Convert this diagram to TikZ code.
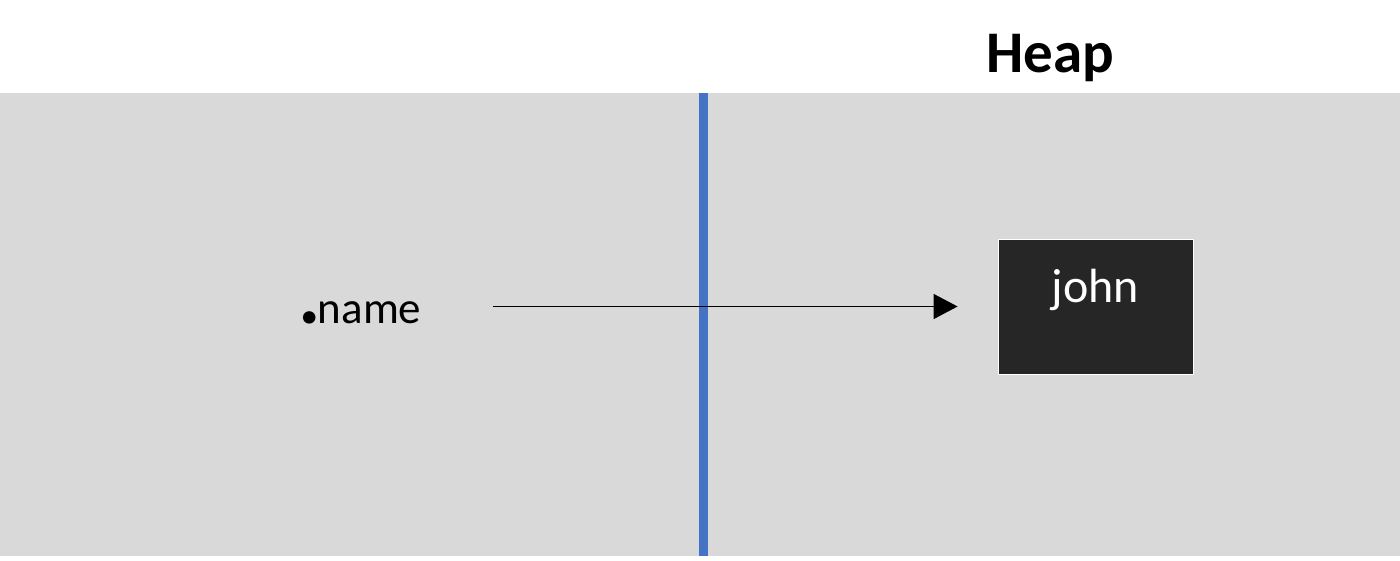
\documentclass[tikz,border=0pt]{standalone}
\usepackage{fontspec}
\setmainfont{Carlito}
\usetikzlibrary{arrows.meta,positioning}
\definecolor{bandgray}{HTML}{D9D9D9}
\definecolor{divblue}{HTML}{4472C4}
\definecolor{objfill}{HTML}{262626}

\begin{document}
\begin{tikzpicture}
  [
    x=0.5pt,y=-0.5pt,
    lbl/.style={inner sep=0pt, font=\fontsize{22.5}{27}\selectfont},
    obj/.style={draw=white, line width=0.4pt, fill=objfill, text=white, inner sep=0pt,
      minimum width=97.5pt, minimum height=67.5pt, text height=20pt, text depth=24.5pt,
      font=\fontsize{24}{29}\selectfont},
    ptr/.style={-{Triangle[length=12pt,width=12.5pt]}, line width=0.6pt}
  ]
  \useasboundingbox (0,0) rectangle (1400,561);
  % memory band and divider
  \fill[bandgray] (0,93) rectangle (1400,556);
  \draw[divblue, line width=4.5pt] (703,93) -- (703,556);

  \node[lbl, font=\fontsize{29.5}{35}\selectfont\bfseries, anchor=base] (heap) at (1050,73) {Heap};
  \node[lbl, anchor=base west] (name) at (298,323) {{\fontsize{42}{42}\selectfont\bfseries .}\kern-1.5pt name};
  \node[obj] (john) at (1095.5,306.5) {john};

  \coordinate (ptr tail) at (493,306.5);
  \draw[ptr, shorten >=20pt] (ptr tail) -- (john.west);
\end{tikzpicture}
\end{document}
